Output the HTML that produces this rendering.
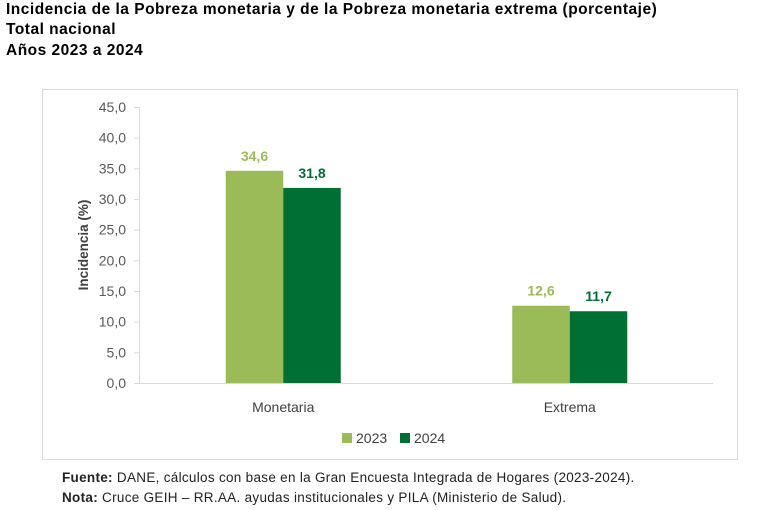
<!DOCTYPE html>
<html><head><meta charset="utf-8"><style>
body{margin:0;width:784px;height:510px;background:#fff;font-family:"Liberation Sans",sans-serif;overflow:hidden}
.t{position:absolute;left:6px;font-weight:bold;font-size:15.5px;letter-spacing:0.5px;color:#000}
.f{position:absolute;left:62px;font-size:13.5px;letter-spacing:0.3px;color:#222}
</style></head><body>
<div class="t" style="top:1px">Incidencia de la Pobreza monetaria y de la Pobreza monetaria extrema (porcentaje)</div>
<div class="t" style="top:21px">Total nacional</div>
<div class="t" style="top:42px">Años 2023 a 2024</div>
<svg id="c" width="784" height="510" style="position:absolute;left:0;top:0">
<rect x="42.5" y="89.5" width="695" height="370" fill="none" stroke="#d9d9d9"/>
</svg>
<div class="f" style="top:470px"><b>Fuente:</b> DANE, cálculos con base en la Gran Encuesta Integrada de Hogares (2023-2024).</div>
<div class="f" style="top:490px"><b>Nota:</b> Cruce GEIH – RR.AA. ayudas institucionales y PILA (Ministerio de Salud).</div>
<script>
const categories=["Monetaria","Extrema"];
const seriesNames=["2023","2024"];
const values2023=[34.6,12.6];
const values2024=[31.8,11.7];
const yTicks=[0,5,10,15,20,25,30,35,40,45];
const colors=["#9BBB59","#006F33"];
const svg=document.getElementById('c');
const NS="http://www.w3.org/2000/svg";
const x0=140,x1=713,y0=383,y1=107,ymax=45;
const Y=v=>y0-(v/ymax)*(y0-y1);
const catW=(x1-x0)/categories.length;
const X=i=>x0+catW*(i+0.5);
const bw=57.5;
function mk(t,a,txt){const e=document.createElementNS(NS,t);for(const k in a)e.setAttribute(k,a[k]);if(txt!=null)e.textContent=txt;svg.appendChild(e);return e;}
yTicks.forEach(v=>{
 const l=mk('line',{x1:134,x2:x0,y1:Y(v)+.5,y2:Y(v)+.5,stroke:'#d9d9d9'});
 
 
 const t=mk('text',{x:126,y:Y(v)+5,'text-anchor':'end','font-size':'14',fill:'#595959'},v.toFixed(1).replace('.',','));
 
 
});
const ax=mk('line',{x1:x0-.5,x2:x0-.5,y1:y1,y2:y0,stroke:'#d9d9d9'});


const xa=mk('line',{x1:x0,x2:x1,y1:y0+.5,y2:y0+.5,stroke:'#d9d9d9'});


const yt=mk('text',{transform:'translate(88,245) rotate(-90)','text-anchor':'middle','font-size':'13.5','font-weight':'bold',fill:'#404040'},'Incidencia (%)');


[values2023,values2024].forEach((vals,s)=>{
 vals.forEach((v,i)=>{
  const bx=X(i)-bw+s*bw;
  const r=mk('rect',{x:bx,y:Y(v),width:bw,height:y0-Y(v),fill:colors[s]});
  
  
  const t=mk('text',{x:bx+bw/2,y:Y(v)-10,'text-anchor':'middle','font-size':'14','font-weight':'bold',fill:colors[s]},v.toFixed(1).replace('.',','));
  
  
 });
});
categories.forEach((c,i)=>{
 const t=mk('text',{x:X(i),y:412,'text-anchor':'middle','font-size':'14',fill:'#404040'},c);
 
 
});
seriesNames.forEach((n,s)=>{
 const lx=342+s*58;
 const r=mk('rect',{x:lx,y:433,width:10,height:10,fill:colors[s]});
 
 
 const t=mk('text',{x:lx+14,y:443,'font-size':'14',fill:'#404040'},n);
 
 
});
</script>
</body></html>
